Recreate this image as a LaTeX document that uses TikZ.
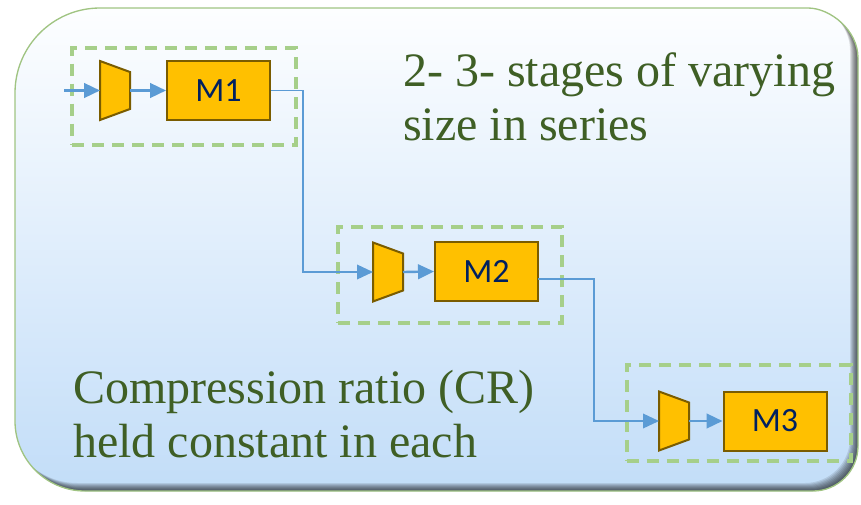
\documentclass[tikz,border=0pt]{standalone}
\usepackage{fontspec}
\setmainfont{Liberation Serif}
\newfontfamily\labelfont{Carlito}
\usetikzlibrary{arrows.meta}

\definecolor{panelTop}{RGB}{253,254,255}
\definecolor{panelMid}{RGB}{220,236,252}
\definecolor{panelBot}{RGB}{194,221,248}
\definecolor{panelRim}{RGB}{160,196,130}
\definecolor{boxFill}{RGB}{255,192,0}
\definecolor{boxEdge}{RGB}{122,92,0}
\definecolor{labelNavy}{RGB}{0,32,96}
\definecolor{groupGreen}{RGB}{166,207,138}
\definecolor{flowBlue}{RGB}{91,155,213}
\definecolor{captionGreen}{RGB}{63,95,37}

% outline of the rounded panel (pixel-like units, y pointing down)
\def\PanelOutline{(15,93) .. controls (15,46.1) and (53.1,8) .. (100,8)
  -- (808,8) .. controls (830.4,8) and (858,30.4) .. (858,58)
  -- (858,446) .. controls (858,470.8) and (837.8,491) .. (813,491)
  -- (85,491) .. controls (46.4,491) and (15,459.6) .. (15,421) -- cycle}

\tikzset{
  stagebox/.style={draw=boxEdge, fill=boxFill, line width=1.5pt,
    minimum width=77.25pt, minimum height=44.25pt, inner sep=0pt,
    font=\labelfont\fontsize{25.5}{30}\selectfont, text=labelNavy},
  groupbox/.style={draw=groupGreen, line width=3pt,
    dash pattern=on 9pt off 6pt, inner sep=0pt,
    minimum width=168pt, minimum height=72.5pt},
  flow/.style={draw=flowBlue, line width=1.8pt,
    -{Triangle[length=12pt,width=11pt]}},
  link/.style={draw=flowBlue, line width=1.1pt,
    -{Triangle[length=12pt,width=11pt]}},
  caption/.style={font=\fontsize{36}{40.5}\selectfont, text=captionGreen,
    inner sep=0pt, anchor=base west},
  pics/compressor/.style={code={
    \draw[boxEdge, fill=boxFill, line width=1.5pt]
      (0,-29.5) -- (30,-18.5) -- (30,18.5) -- (0,29.5) -- cycle;
    \coordinate (-in) at (0,0);
    \coordinate (-out) at (30,0);
  }}
}

\begin{document}
\begin{tikzpicture}[x=0.75pt,y=-0.75pt]
\useasboundingbox (0,0) rectangle (861,504);

% panel body with vertical gradient
\shade[top color=panelTop, middle color=panelMid, bottom color=panelBot] \PanelOutline;

% soft inner shadow along the lower and right edges
\begin{scope}
  \clip \PanelOutline;
  \foreach \s in {1,2,...,8} {
    \begin{scope}[shift={(-\s,-\s)}]
      \fill[black, opacity=0.1, even odd rule]
        (-100,-100) rectangle (1000,700) \PanelOutline;
    \end{scope}
  }
\end{scope}
\draw[panelRim, line width=1pt] \PanelOutline;

% dashed stage groups
\node[groupbox] (g1) at (184,96.5) {};
\node[groupbox] (g2) at (450,275) {};
\node[groupbox] (g3) at (738.5,413) {};

% compressors and machines
\pic (c1) at (100,90.5) {compressor};
\pic (c2) at (373,272) {compressor};
\pic (c3) at (659,421) {compressor};

\node[stagebox] (m1) at (218.5,90.5) {M1};
\node[stagebox] (m2) at (486.5,271.5) {M2};
\node[stagebox] (m3) at (775,421) {M3};

% flow arrows
\coordinate (src) at (64,90.5);
\draw[flow] (src) -- (c1-in);
\draw[flow] (c1-out) -- (m1.west);
\draw[flow] (c2-out) -- (m2.west);
\draw[flow] (c3-out) -- (m3.west);

% connectors between stages
\coordinate (k1) at (303,90.5);
\draw[link] (m1.east) -- (k1) |- (c2-in);
\coordinate (e2) at (538,279);
\coordinate (k2) at (594,279);
\draw[link] (e2) -- (k2) |- (c3-in);

% captions
\node[caption] (t1a) at (403,86) {2- 3- stages of varying};
\node[caption] (t1b) at (403,140) {size in series};
\node[caption] (t2a) at (73,403) {Compression ratio (CR)};
\node[caption] (t2b) at (73,457) {held constant in each};
\end{tikzpicture}
\end{document}
